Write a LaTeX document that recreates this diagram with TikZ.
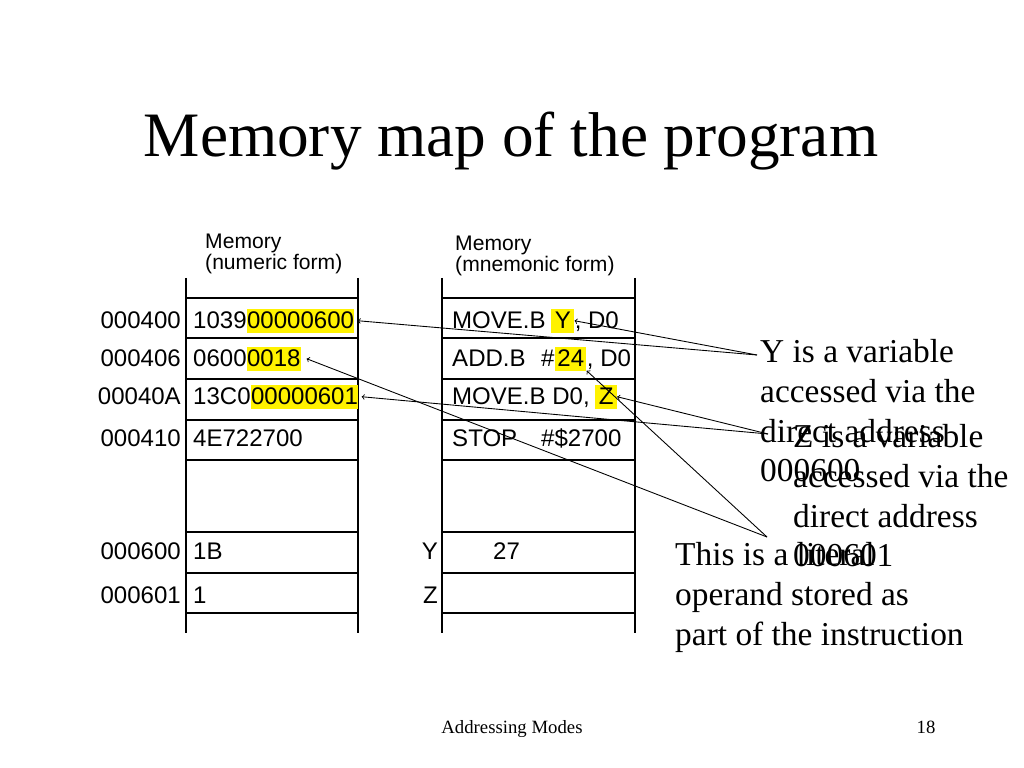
\documentclass[tikz,border=0pt]{standalone}
\usepackage{fontspec}
\setmainfont{Liberation Serif}
\setsansfont{Liberation Sans}
\newcommand{\cellfont}{\sffamily\fontsize{20.5}{24}\selectfont}
\newcommand{\notefont}{\fontsize{28.5}{34}\selectfont}
\tikzstyle{addr}=[anchor=base east, inner sep=0pt, font=\cellfont]
\tikzstyle{cell}=[anchor=base west, inner sep=0pt, font=\cellfont]
\tikzstyle{hl}=[cell, fill=yellow, inner ysep=3pt]
\tikzstyle{head}=[anchor=north west, inner sep=0pt, align=left,
    font=\sffamily\fontsize{18}{18}\selectfont]
\tikzstyle{note}=[anchor=north west, inner sep=0pt, align=left, font=\notefont]
\tikzstyle{wall}=[line width=2.2pt]
\tikzstyle{ptr}=[<-, line width=0.75pt]

\begin{document}
\begin{tikzpicture}[x=0.03cm, y=-0.03cm]
  \fill[white] (0,0) rectangle (1024,768);
  \useasboundingbox (0,0) rectangle (1024,768);

  \node[font=\fontsize{54}{60}\selectfont, anchor=base] at (511,157) (title) {Memory map of the program};

  % the two memory columns
  \draw[wall] (186,278) -- (186,633);
  \draw[wall] (358,278) -- (358,633);
  \draw[wall] (442,278) -- (442,633);
  \draw[wall] (635,278) -- (635,633);
  \foreach \y in {298,338,379,420,460,532,573,613} {
    \draw[wall] (186,\y) -- (358,\y);
    \draw[wall] (442,\y) -- (635,\y);
  }
  \node[head] at (205,234) (hnum) {Memory\\(numeric form)};
  \node[head] at (455,236) (hmne) {Memory\\(mnemonic form)};

  \node[addr] at (181,329) (a400) {000400};
  \node[addr] at (181,367) (a406) {000406};
  \node[addr] at (181,405) (a40A) {00040A};
  \node[addr] at (181,447) (a410) {000410};
  \node[addr] at (181,560) (a600) {000600};
  \node[addr] at (181,604) (a601) {000601};

  \node[cell] at (193,329) (n400) {1039};
    \node[hl] at (n400.base east) (ya) {00000600};
  \node[cell] at (193,367) (n406) {0600};
    \node[hl] at (n406.base east) (lita) {0018};
  \node[cell] at (193,405) (n40A) {13C0};
    \node[hl] at (n40A.base east) (za) {00000601};
  \node[cell] at (193,447) (n410) {4E722700};
  \node[cell] at (193,560) (n600) {1B};
  \node[cell] at (193,604) (n601) {1};

  \node[cell] at (452,329) (m400) {MOVE.B};
    \node[hl, inner xsep=3pt] at (551,329) (ym) {Y};
    \node[cell] at (ym.base east) (m400b) {, D0};
  \node[cell] at (452,367) (m406) {ADD.B};
    \node[cell] at (541,367) (m406h) {\#};
    \node[hl, inner xsep=2pt] at (m406h.base east) (litm) {24};
    \node[cell] at (litm.base east) (m406b) {, D0};
  \node[cell] at (452,405) (m40A) {MOVE.B D0,};
    \node[hl, inner xsep=3pt] at (595,405) (zm) {Z};
  \node[cell] at (452,447) (m410) {STOP};
    \node[cell] at (541,447) (m410b) {\#\$2700};
  \node[addr] at (438,560) (yl) {Y};
  \node[cell] at (493,560) (yv) {27};
  \node[addr] at (438,604) (zl) {Z};

  \node[note] at (760,339) (ynote) {Y is a variable\\accessed via the\\direct address\\000600};
  \node[note] at (793,424) (znote) {Z is a variable\\accessed via the\\direct address\\000601};
  \node[note] at (675,542) (litnote) {This is a literal\\operand stored as\\part of the instruction};

  \coordinate (yp) at (757,355);
  \coordinate (zp) at (768,434);
  \coordinate (lp) at (767,537);
  \draw[ptr] ([xshift=3pt]ya.east) -- (yp);
  \draw[ptr] (ym.east) -- (yp);
  \draw[ptr] ([xshift=3pt]za.east) -- (zp);
  \draw[ptr] (zm.east) -- (zp);
  \draw[ptr] ([xshift=5pt]lita.east) -- (lp);
  \draw[ptr] (litm.south east) -- (lp);

  \node[font=\fontsize{16}{19}\selectfont, anchor=base] at (512,733) (foot) {Addressing Modes};
  \node[font=\fontsize{16}{19}\selectfont, anchor=base] at (926,733) (page) {18};
\end{tikzpicture}
\end{document}
